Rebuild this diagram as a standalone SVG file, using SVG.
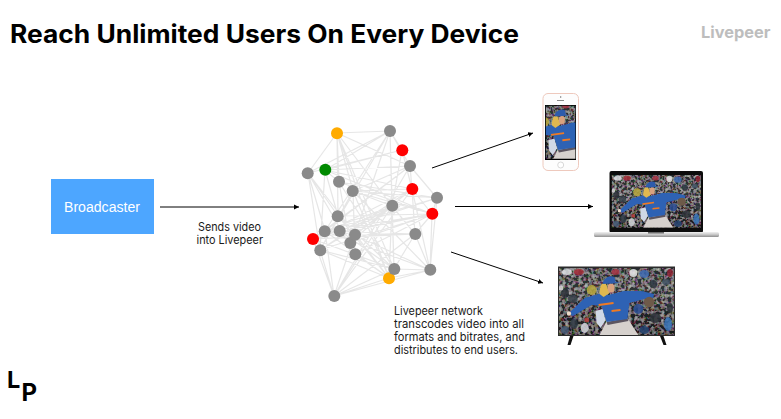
<svg xmlns="http://www.w3.org/2000/svg" width="781" height="419" viewBox="0 0 781 419">
<style>
text{font-family:Inter,"Liberation Sans",Arial,sans-serif;fill:#000}
.lbl{font-size:11.500px;fill:#1a1a1a}
.gray{fill:#8a8a8a}.red{fill:#ff0000}.amber{fill:#ffab00}.green{fill:#008a00}
.edge{fill:none;stroke:#c4c4c4;stroke-opacity:.42;stroke-width:1.200}
.arrow{stroke:#000;stroke-width:1;fill:none;marker-end:url(#tip)}
</style>
<defs>
<marker id="tip" markerUnits="userSpaceOnUse" markerWidth="6" markerHeight="6" refX="5" refY="3" orient="auto"><path d="M0 0.500L5 3L0 5.500Z" fill="#000"/></marker>
<filter id="soft" x="0" y="0" width="100%" height="100%"><feGaussianBlur stdDeviation="0.5"/></filter>
<filter id="crowd" x="0" y="0" width="100%" height="100%"><feTurbulence type="fractalNoise" baseFrequency="0.3" numOctaves="2" seed="11"/><feColorMatrix values="1.200 .7 .7 0 -1.150  .7 1.100 .7 0 -1.150  .7 .7 1.100 0 -1.150  0 0 0 0 .6"/></filter>
<linearGradient id="base" x1="0" y1="0" x2="0" y2="1"><stop offset="0" stop-color="#f1f1f1"/><stop offset=".5" stop-color="#c9c9c9"/><stop offset="1" stop-color="#8f8f8f"/></linearGradient>
<linearGradient id="bg" x1="0" y1="0" x2="0" y2="1"><stop offset="0" stop-color="#5f6e72"/><stop offset=".35" stop-color="#72878a"/><stop offset=".65" stop-color="#4f5b5f"/><stop offset="1" stop-color="#3b4249"/></linearGradient>
<symbol id="photo" viewBox="0 0 116 67" preserveAspectRatio="none">
<g filter="url(#soft)">
<rect width="116" height="67" fill="url(#bg)"/>
<rect width="116" height="67" filter="url(#crowd)"/>
<g opacity=".85">
<ellipse cx="20" cy="4" rx="5" ry="3" fill="#a9303a"/><ellipse cx="8" cy="4" rx="5" ry="3" fill="#dfe3e6"/>
<ellipse cx="57" cy="4" rx="4" ry="3" fill="#a53245"/><ellipse cx="75" cy="5" rx="4" ry="4" fill="#e9e9ea"/><ellipse cx="86" cy="6" rx="5" ry="4" fill="#3d69b0"/><ellipse cx="112" cy="5" rx="3" ry="4" fill="#8c2232"/>
<ellipse cx="33" cy="22" rx="5" ry="5" fill="#b9a93f"/>
<ellipse cx="6" cy="25" rx="4" ry="5" fill="#2a2f36"/><ellipse cx="14" cy="31" rx="5" ry="4" fill="#39424c"/><circle cx="2" cy="20" r="2.500" fill="#d6d6d6"/>
<ellipse cx="95" cy="16" rx="4" ry="4" fill="#2c3640"/><ellipse cx="108" cy="14" rx="4" ry="3" fill="#425365"/>
<ellipse cx="15" cy="56" rx="4" ry="5" fill="#2e3944"/><ellipse cx="26" cy="60" rx="4" ry="5" fill="#d3d8dc"/><ellipse cx="28" cy="52" rx="2.500" ry="2.500" fill="#b8413c"/><ellipse cx="6" cy="62" rx="4" ry="4" fill="#445a74"/>
<ellipse cx="80" cy="41" rx="5" ry="5" fill="#2a4c94"/><ellipse cx="97" cy="50" rx="6" ry="5" fill="#2c3238"/><ellipse cx="110" cy="56" rx="4" ry="7" fill="#3a78bd"/><ellipse cx="86" cy="62" rx="5" ry="4" fill="#22416f"/><ellipse cx="112" cy="40" rx="3" ry="5" fill="#2e363c"/>
</g>
<path d="M37 43L44 41L47 52L42 60L38 55Z" fill="#cfd8e6"/>
<path d="M41 67L48 53L69 50L80 67Z" fill="#d6d1cd"/>
<path d="M48 54L69 50L70 53L49 57Z" fill="#5b5560"/>
<path d="M9 46L26 30L43 25L50 27L65 23L83 23L96 26L95 30L86 31L71 35L69 51L48 54L43 38L33 37L14 48Z" fill="#2f62b4"/>
<circle cx="10" cy="45.500" r="2.200" fill="#ecd9c6"/>
<circle cx="91" cy="34" r="5.200" fill="#6e5a48"/>
<path d="M41 26C41 17 43 15 47 15L51 25L45 29Z" fill="#e0b850"/>
<ellipse cx="52.500" cy="20" rx="3.500" ry="4.500" fill="#d9a27e"/>
<path d="M44 16C45 9 52 7 56 9L57 14L62 15L53 15.500Z" fill="#2d5cab"/>
<path d="M40 37L55 35M53 43L62 42" stroke="#ef7a23" stroke-width="2" fill="none"/>
</g>
</symbol>
</defs>

<rect width="781" height="419" fill="#fff"/>
<text x="10" y="43" font-size="25" font-weight="700" textLength="509" lengthAdjust="spacingAndGlyphs">Reach Unlimited Users On Every Device</text>
<text x="701" y="38.300" font-size="16" font-weight="700" style="fill:#bdbdbd" textLength="69.500" lengthAdjust="spacingAndGlyphs">Livepeer</text>

<g id="connectors">
<path class="edge" d="M337 133L390 131M337 133L308 173M337 133L339 182M337 133L338 216M337 133L353 191M337 133L410 166M337 133L392 206M337 133L394 269M337 133L389 278
M390 131L308 173M390 131L325 170M390 131L402 150M390 131L410 166M390 131L334 296M390 131L320 250M390 131L325 231M390 131L392 206M390 131L394 269
M402 150L325 170M402 150L412 189M402 150L392 206M402 150L308 173
M410 166L412 189M410 166L437 198M410 166L353 191M410 166L325 170M410 166L325 231M410 166L313 239M410 166L334 296
M325 170L338 216M325 170L412 189M325 170L339 182M325 170L432 214M325 170L320 250
M308 173L338 216M308 173L325 231M308 173L320 250M308 173L355 254M308 173L389 278
M339 182L437 198M339 182L432 214M339 182L350 243M339 182L394 269
M353 191L412 189M353 191L432 214M353 191L320 250M353 191L355 254M353 191L389 278M353 191L437 198M353 191L392 206M353 191L430 270
M412 189L415 234M412 189L430 270M412 189L432 214M412 189L313 239M412 189L320 250
M437 198L432 214M437 198L430 270M437 198L325 231M437 198L313 239
M392 206L394 269M392 206L389 278M392 206L415 234M392 206L325 231M392 206L340 231M392 206L320 250M392 206L334 296
M432 214L430 270M432 214L415 234M432 214L340 231M432 214L320 250M432 214L313 239M432 214L350 243M432 214L325 231
M338 216L389 278M338 216L432 214M338 216L394 269
M325 231L389 278M325 231L415 234M340 231L394 269M355 235L392 206M355 235L415 234M355 235L412 189
M415 234L430 270M415 234L394 269M415 234L334 296
M313 239L394 269M313 239L412 189M313 239L415 234M350 243L392 206
M320 250L389 278M320 250L394 269M320 250L334 296
M355 254L389 278M355 254L432 214
M430 270L389 278M430 270L394 269M430 270L325 231M430 270L355 235
M334 296L389 278M334 296L325 231M334 296L394 269M334 296L430 270M334 296L392 206M334 296L412 189M313 239L334 296"/>
<line class="arrow" x1="160" y1="207" x2="299" y2="207"/>
<line class="arrow" x1="432" y1="168" x2="533" y2="133"/>
<line class="arrow" x1="455" y1="206.500" x2="593" y2="206.500"/>
<line class="arrow" x1="451" y1="252" x2="543" y2="283"/>
</g>

<g id="broadcaster"><rect x="51" y="179" width="103" height="55" fill="#4da6ff"/><text x="64" y="211.700" font-size="14" style="fill:#fff;font-family:'Liberation Sans',Arial,sans-serif" textLength="76" lengthAdjust="spacingAndGlyphs">Broadcaster</text></g>
<g id="label-sends"><text class="lbl" x="198" y="231" textLength="63" lengthAdjust="spacingAndGlyphs">Sends video</text><text class="lbl" x="196.500" y="244" textLength="66.500" lengthAdjust="spacingAndGlyphs">into Livepeer</text></g>
<g id="label-network">
<text class="lbl" x="394" y="315" textLength="89" lengthAdjust="spacingAndGlyphs">Livepeer network</text>
<text class="lbl" x="394" y="328" textLength="130" lengthAdjust="spacingAndGlyphs">transcodes video into all</text>
<text class="lbl" x="394" y="340.500" textLength="131" lengthAdjust="spacingAndGlyphs">formats and bitrates, and</text>
<text class="lbl" x="394" y="353.500" textLength="124" lengthAdjust="spacingAndGlyphs">distributes to end users.</text>
</g>

<g id="node-1"><circle cx="337" cy="133.300" r="6" class="amber"/></g>
<g id="node-2"><circle cx="390" cy="131" r="6" class="gray"/></g>
<g id="node-3"><circle cx="402.300" cy="150.300" r="6" class="red"/></g>
<g id="node-4"><circle cx="410" cy="166" r="6" class="gray"/></g>
<g id="node-5"><circle cx="325.300" cy="169.700" r="6" class="green"/></g>
<g id="node-6"><circle cx="307.700" cy="173.300" r="6" class="gray"/></g>
<g id="node-7"><circle cx="339" cy="181.700" r="6" class="gray"/></g>
<g id="node-8"><circle cx="352.700" cy="191" r="6" class="gray"/></g>
<g id="node-9"><circle cx="412.300" cy="189" r="6" class="red"/></g>
<g id="node-10"><circle cx="437" cy="197.700" r="6" class="gray"/></g>
<g id="node-11"><circle cx="392.300" cy="205.700" r="6" class="gray"/></g>
<g id="node-12"><circle cx="432.300" cy="213.700" r="6" class="red"/></g>
<g id="node-13"><circle cx="337.700" cy="216.300" r="6" class="gray"/></g>
<g id="node-14"><circle cx="324.700" cy="231.300" r="6" class="gray"/></g>
<g id="node-15"><circle cx="339.700" cy="231" r="6" class="gray"/></g>
<g id="node-16"><circle cx="350.300" cy="243" r="6" class="gray"/></g>
<g id="node-17"><circle cx="355" cy="234.700" r="6" class="gray"/></g>
<g id="node-18"><circle cx="415.300" cy="234" r="6" class="gray"/></g>
<g id="node-19"><circle cx="313" cy="239" r="6" class="red"/></g>
<g id="node-20"><circle cx="320.300" cy="250.300" r="6" class="gray"/></g>
<g id="node-21"><circle cx="355.300" cy="254.300" r="6" class="gray"/></g>
<g id="node-22"><circle cx="389" cy="278.300" r="6" class="amber"/></g>
<g id="node-23"><circle cx="394.300" cy="269" r="6" class="gray"/></g>
<g id="node-24"><circle cx="430.300" cy="269.700" r="6" class="gray"/></g>
<g id="node-25"><circle cx="334.300" cy="296" r="6" class="gray"/></g>

<g id="phone">
<rect x="543" y="93.500" width="35.500" height="77" rx="5" fill="#fdfdfd" stroke="#eec9bd" stroke-width="1"/>
<rect x="545" y="105" width="31" height="55" fill="#000"/>
<svg x="545.800" y="105.800" width="29.600" height="53" viewBox="34 4 34 60" preserveAspectRatio="none"><use href="#photo" width="116" height="67"/></svg>
<circle cx="560.700" cy="165" r="3" fill="#fff" stroke="#c9c9c9" stroke-width=".7"/>
<rect x="557" y="100" width="7" height="1" fill="#888"/><circle cx="560.700" cy="97" r=".7" fill="#666"/>
</g>

<g id="laptop">
<rect x="609.500" y="171" width="93.500" height="62" rx="2" fill="#0c0c0c"/>
<use href="#photo" x="611.700" y="175" width="89.300" height="52.700"/>
<rect x="594" y="232" width="125" height="5" rx="1.500" fill="url(#base)"/>
<rect x="648" y="232" width="16" height="1.500" fill="#6d6d6d"/>
</g>

<g id="tv">
<rect x="558" y="266.500" width="117" height="69.500" fill="#2b2b2b"/>
<use href="#photo" x="559" y="268" width="115" height="67"/>
<path d="M570 336L573.500 336L570.500 345L567.500 345ZM660 336L663.500 336L666.500 345L663.500 345Z" fill="#111"/>
</g>

<g id="logo">
<text x="7" y="388" font-size="23.500" font-weight="700">L</text>
<text x="21.500" y="401" font-size="24" font-weight="700">P</text>
</g>
</svg>
